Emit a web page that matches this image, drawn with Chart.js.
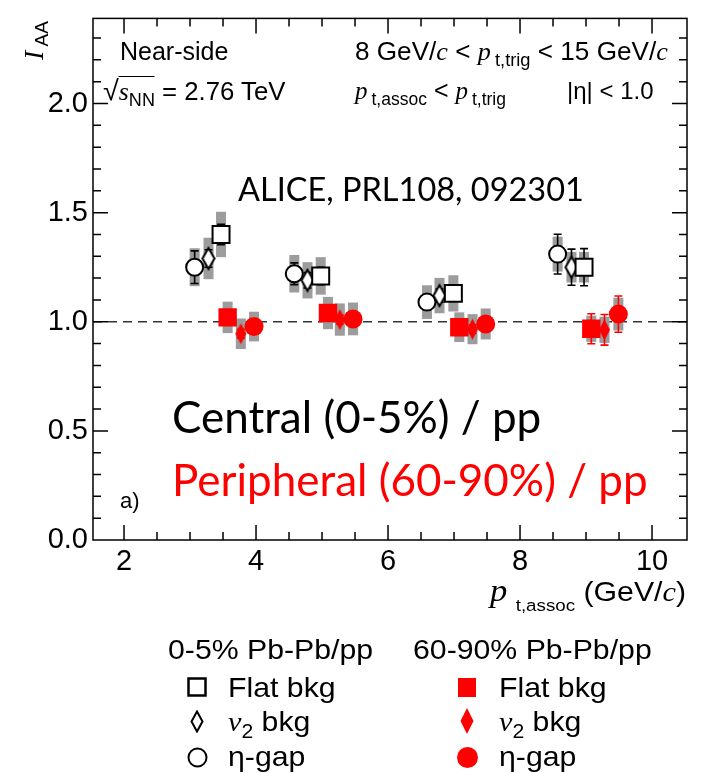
<!DOCTYPE html>
<html>
<head>
<meta charset="utf-8">
<script src="https://cdn.jsdelivr.net/npm/chart.js@4.4.0/dist/chart.umd.min.js"></script>
<style>
  body { margin: 0; background: #fff; overflow: hidden; }
  #wrap { position: relative; width: 704px; height: 773px; overflow: hidden; font-family: "Liberation Sans", Arial, sans-serif; }
  #chart { position: absolute; left: 0; top: -4px; }
  .t { position: absolute; white-space: nowrap; line-height: 1; color: #000; transform-origin: 0 0; }
  .w { transform: scaleX(1.08); }
  .m { font-family: "Liberation Serif", serif; font-style: italic; }
  .sub { font-size: 0.7em; position: relative; top: 0.35em; }
  .gap { margin-left: 4px; }
  .big { font-family: Lato, "Open Sans", sans-serif; }
  .mk { position: absolute; }
</style>
</head>
<body>
<div id="wrap">
  <canvas id="chart" width="704" height="777"></canvas>

  <div class="t" style="left:120px;top:39px;font-size:25px;">Near-side</div>
  <div class="t" style="left:103px;top:77px;font-size:25px;transform:scaleX(1.03);"><span style="font-size:28px;">√</span><span style="border-top:1.5px solid #000;"><span class="m">s</span><span class="sub">NN</span></span> = 2.76 TeV</div>
  <div class="t" style="left:355px;top:39px;font-size:25px;transform:scaleX(1.045);">8 GeV/<span class="m">c</span> &lt; <span class="m">p</span><span class="sub gap">t,trig</span> &lt; 15 GeV/<span class="m">c</span></div>
  <div class="t" style="left:355px;top:78px;font-size:25px;"><span class="m">p</span><span class="sub gap">t,assoc</span> &lt; <span class="m">p</span><span class="sub gap">t,trig</span></div>
  <div class="t" style="left:567px;top:79px;font-size:24px;">|η| &lt; 1.0</div>

  <div class="t big" style="left:238px;top:173px;font-size:32.5px;">ALICE, PRL108, 092301</div>
  <div class="t big" style="left:172px;top:394px;font-size:44px;">Central (0-5%) / pp</div>
  <div class="t big" style="left:172px;top:457px;font-size:44px;color:#ff0000;">Peripheral (60-90%) / pp</div>
  <div class="t" style="left:120px;top:490px;font-size:22px;">a)</div>

  <div class="t" style="left:20px;top:60px;font-size:28px;transform:rotate(-90deg);"><span class="m">I</span><span class="sub" style="font-size:0.68em;top:0.25em;"> AA</span></div>
  <div class="t w" style="left:490px;top:574px;font-size:28px;"><span class="m" style="font-size:32px;">p</span> <span class="sub" style="font-size:0.62em;top:0.6em;">t,assoc</span> (GeV/<span class="m">c</span>)</div>

  <div class="t w" style="left:168px;top:636px;font-size:28px;">0-5% Pb-Pb/pp</div>
  <div class="t w" style="left:413px;top:636px;font-size:28px;">60-90% Pb-Pb/pp</div>
  <div class="t w" style="left:228px;top:674px;font-size:28px;">Flat bkg</div>
  <div class="t w" style="left:228px;top:708px;font-size:28px;"><span class="m">v</span><span class="sub">2</span> bkg</div>
  <div class="t w" style="left:228px;top:743px;font-size:28px;">η-gap</div>
  <div class="t w" style="left:499px;top:674px;font-size:28px;">Flat bkg</div>
  <div class="t w" style="left:499px;top:708px;font-size:28px;"><span class="m">v</span><span class="sub">2</span> bkg</div>
  <div class="t w" style="left:499px;top:743px;font-size:28px;">η-gap</div>

  <svg class="mk" style="left:187px;top:677px;" width="20" height="20"><rect x="1.5" y="1.5" width="17" height="17" fill="none" stroke="#000" stroke-width="2.5"/></svg>
  <svg class="mk" style="left:190px;top:710px;" width="14" height="23"><polygon points="7,1.5 12.5,11.5 7,21.5 1.5,11.5" fill="none" stroke="#000" stroke-width="2"/></svg>
  <svg class="mk" style="left:187px;top:747px;" width="21" height="21"><circle cx="10.5" cy="10.5" r="9" fill="none" stroke="#000" stroke-width="2"/></svg>
  <svg class="mk" style="left:458px;top:678px;" width="18" height="19"><rect x="0" y="0" width="18" height="19" fill="#ff0000"/></svg>
  <svg class="mk" style="left:460px;top:708px;" width="14" height="26"><polygon points="7,0 13.5,13 7,26 0.5,13" fill="#ff0000"/></svg>
  <svg class="mk" style="left:457px;top:747px;" width="21" height="21"><circle cx="10.5" cy="10.5" r="10.5" fill="#ff0000"/></svg>
</div>

<script>
// central (0-5%) Pb-Pb/pp
const centralFlatX = [3.47, 4.98, 6.99, 8.97];
const centralFlatY = [1.40, 1.21, 1.13, 1.25];
const centralFlatStat = [0.047, 0.04, 0.03, 0.085];
const centralFlatSys = [0.104, 0.086, 0.083, 0.07];

const centralV2X = [3.28, 4.78, 6.78, 8.78];
const centralV2Y = [1.29, 1.19, 1.12, 1.25];
const centralV2Stat = [0.04, 0.035, 0.03, 0.083];
const centralV2Sys = [0.095, 0.083, 0.081, 0.07];

const centralEtaX = [3.07, 4.58, 6.59, 8.57];
const centralEtaY = [1.25, 1.22, 1.09, 1.31];
const centralEtaStat = [0.075, 0.05, 0.035, 0.091];
const centralEtaSys = [0.087, 0.086, 0.077, 0.08];

// peripheral (60-90%) Pb-Pb/pp
const periphFlatX = [3.57, 5.09, 7.08, 9.08];
const periphFlatY = [1.02, 1.04, 0.975, 0.968];
const periphFlatStat = [0.02, 0.02, 0.02, 0.069];
const periphFlatSys = [0.072, 0.074, 0.068, 0.06];

const periphV2X = [3.77, 5.27, 7.28, 9.28];
const periphV2Y = [0.945, 1.01, 0.966, 0.963];
const periphV2Stat = [0.02, 0.02, 0.02, 0.07];
const periphV2Sys = [0.07, 0.074, 0.069, 0.06];

const periphEtaX = [3.97, 5.47, 7.48, 9.49];
const periphEtaY = [0.978, 1.013, 0.99, 1.035];
const periphEtaStat = [0.02, 0.02, 0.02, 0.083];
const periphEtaSys = [0.068, 0.075, 0.071, 0.075];

const xTickLabels = [2, 4, 6, 8, 10];
const yTickLabels = [0, 0.5, 1.0, 1.5, 2.0];

function diamond(w, h, fill, stroke) {
  const c = document.createElement('canvas');
  c.width = w + 4; c.height = h + 4;
  const g = c.getContext('2d');
  g.beginPath();
  g.moveTo(c.width / 2, 2);
  g.lineTo(c.width - 2, c.height / 2);
  g.lineTo(c.width / 2, c.height - 2);
  g.lineTo(2, c.height / 2);
  g.closePath();
  g.fillStyle = fill;
  g.fill();
  if (stroke) { g.lineWidth = 2; g.strokeStyle = stroke; g.stroke(); }
  return c;
}

function pts(xs, ys) {
  return xs.map((x, i) => ({ x, y: ys[i] }));
}

function series(label, xs, ys, stat, sys, color, style, radius, fill) {
  return {
    label,
    data: pts(xs, ys),
    stat, sys, errColor: color,
    pointStyle: style,
    pointRadius: radius,
    pointHoverRadius: radius,
    pointBackgroundColor: fill,
    pointBorderColor: color,
    pointBorderWidth: fill === color ? 0 : 2
  };
}

const errPlugin = {
  id: 'errs',
  beforeDatasetsDraw(chart) {
    const { ctx, chartArea: a, scales: { x, y } } = chart;
    ctx.save();
    ctx.setLineDash([9, 6]);
    ctx.strokeStyle = '#333';
    ctx.lineWidth = 1.3;
    const y1 = y.getPixelForValue(1);
    ctx.beginPath(); ctx.moveTo(a.left, y1); ctx.lineTo(a.right, y1); ctx.stroke();
    ctx.setLineDash([]);

    chart.data.datasets.forEach(ds => {
      ctx.fillStyle = '#9c9c9c';
      ds.data.forEach((p, i) => {
        const px = x.getPixelForValue(p.x);
        const t = y.getPixelForValue(p.y + ds.sys[i]);
        const b = y.getPixelForValue(p.y - ds.sys[i]);
        ctx.fillRect(px - 5, t, 10, b - t);
      });
    });
    chart.data.datasets.forEach(ds => {
      ctx.strokeStyle = ds.errColor;
      ctx.lineWidth = 1.6;
      ds.data.forEach((p, i) => {
        const px = x.getPixelForValue(p.x);
        const t = y.getPixelForValue(p.y + ds.stat[i]);
        const b = y.getPixelForValue(p.y - ds.stat[i]);
        ctx.beginPath();
        ctx.moveTo(px, t); ctx.lineTo(px, b);
        ctx.moveTo(px - 4, t); ctx.lineTo(px + 4, t);
        ctx.moveTo(px - 4, b); ctx.lineTo(px + 4, b);
        ctx.stroke();
      });
    });
    ctx.restore();
  },
  afterDraw(chart) {
    const { ctx, chartArea: a, scales: { x, y } } = chart;
    ctx.save();
    ctx.strokeStyle = '#000';
    ctx.lineWidth = 1.5;
    ctx.strokeRect(a.left, a.top, a.right - a.left, a.bottom - a.top);
    ctx.beginPath();
    for (let k = 4; k <= 20; k++) {
      const v = k * 0.5;
      const px = x.getPixelForValue(v);
      const len = (k % 4 === 0) ? 15 : 8;
      ctx.moveTo(px, a.bottom); ctx.lineTo(px, a.bottom - len);
      ctx.moveTo(px, a.top); ctx.lineTo(px, a.top + len);
    }
    for (let k = 1; k <= 23; k++) {
      const v = k * 0.1;
      const py = y.getPixelForValue(v);
      const len = (k % 5 === 0) ? 15 : 8;
      ctx.moveTo(a.left, py); ctx.lineTo(a.left + len, py);
      ctx.moveTo(a.right, py); ctx.lineTo(a.right - len, py);
    }
    ctx.stroke();
    ctx.restore();
  }
};

new Chart(document.getElementById('chart'), {
  type: 'scatter',
  data: {
    datasets: [
      series('0-5% Flat bkg', centralFlatX, centralFlatY, centralFlatStat, centralFlatSys, '#000', 'rect', 12, '#fff'),
      series('0-5% v2 bkg', centralV2X, centralV2Y, centralV2Stat, centralV2Sys, '#000', diamond(12, 21, '#fff', '#000'), 8, '#fff'),
      series('0-5% eta-gap', centralEtaX, centralEtaY, centralEtaStat, centralEtaSys, '#000', 'circle', 8.5, '#fff'),
      series('60-90% Flat bkg', periphFlatX, periphFlatY, periphFlatStat, periphFlatSys, '#ff0000', 'rect', 13, '#ff0000'),
      series('60-90% v2 bkg', periphV2X, periphV2Y, periphV2Stat, periphV2Sys, '#ff0000', diamond(11, 21, '#ff0000'), 8, '#ff0000'),
      series('60-90% eta-gap', periphEtaX, periphEtaY, periphEtaStat, periphEtaSys, '#ff0000', 'circle', 9.5, '#ff0000')
    ]
  },
  options: {
    responsive: false,
    animation: false,
    layout: { padding: { left: 0, right: 17, top: 0, bottom: 0 } },
    plugins: { legend: { display: false }, tooltip: { enabled: false } },
    scales: {
      x: {
        type: 'linear',
        min: 1.53,
        max: 10.53,
        grid: { display: false, drawTicks: false },
        border: { display: false },
        afterFit: s => { s.height = 233; },
        afterBuildTicks: s => { s.ticks = xTickLabels.map(v => ({ value: v })); },
        ticks: {
          autoSkip: false, maxRotation: 0, padding: 5,
          color: '#000',
          font: { family: 'Liberation Sans', size: 29 },
          callback: v => String(v)
        }
      },
      y: {
        min: 0,
        max: 2.39,
        grid: { display: false, drawTicks: false },
        border: { display: false },
        afterFit: s => { s.width = 93; },
        afterBuildTicks: s => { s.ticks = yTickLabels.map(v => ({ value: v })); },
        ticks: {
          padding: 5,
          color: '#000',
          font: { family: 'Liberation Sans', size: 29 },
          callback: v => v.toFixed(1)
        }
      }
    }
  },
  plugins: [errPlugin]
});
</script>
</body>
</html>
